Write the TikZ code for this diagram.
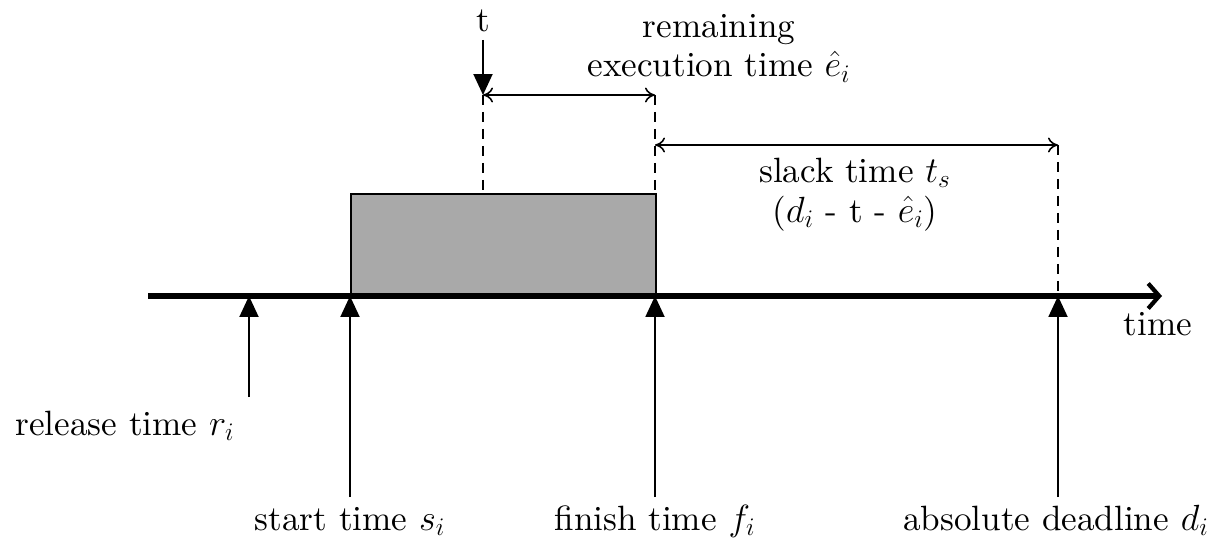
\documentclass[tikz,border=0pt]{standalone}
\usepackage{fontspec}
\setmainfont{lmroman10}[Extension=.otf, UprightFont=*-regular, ItalicFont=*-italic, BoldFont=*-bold]
\usetikzlibrary{arrows.meta}
\definecolor{boxgrey}{RGB}{169,169,169}
\begin{document}
\begin{tikzpicture}[x=0.02cm,y=-0.02cm,
  lbl/.style={font=\fontsize{20}{24}\selectfont, inner sep=0pt, anchor=base},
  twoline/.style={font=\fontsize{20}{22.6}\selectfont, inner sep=0pt, align=center, anchor=base},
  thin line/.style={line width=1.1pt},
  uparrow/.style={thin line, -{Triangle[length=0.42cm,width=0.38cm]}},
  dimline/.style={line width=0.9pt, {To[length=0.2cm,width=0.3cm]}-{To[length=0.2cm,width=0.3cm]}},
  dashline/.style={line width=1.1pt, dash pattern=on 0.2cm off 0.14cm}]
\useasboundingbox (0,0) rectangle (1214,544);
% coordinates
\coordinate (tlL) at (148,296);
\coordinate (tlR) at (1162,296);
\coordinate (rTop) at (249,296);
\coordinate (rBot) at (249,397);
\coordinate (sTop) at (350,296);
\coordinate (sBot) at (350,497);
\coordinate (fTop) at (655,296);
\coordinate (fBot) at (655,497);
\coordinate (dTop) at (1058,296);
\coordinate (dBot) at (1058,497);
\coordinate (tTop) at (483,40);
\coordinate (tA) at (483,95);
\coordinate (tB) at (483,195);
\coordinate (fA) at (655,95);
\coordinate (fB) at (655,195);
\coordinate (fS) at (655,145);
\coordinate (dS) at (1058,145);
% box
\node[draw, thin line, fill=boxgrey, minimum width=305*0.02cm, minimum height=101*0.02cm, inner sep=0pt, anchor=south west] (box) at (350,296) {};
% timeline
\draw[line width=3.4pt, -{Straight Barb[length=0.22cm,width=0.5cm,line width=2.4pt]}] (tlL) -- (tlR);
% up arrows
\draw[uparrow] (rBot) -- (rTop);
\draw[uparrow] (sBot) -- (sTop);
\draw[uparrow] (fBot) -- (fTop);
\draw[uparrow] (dBot) -- (dTop);
% t arrow
\draw[uparrow] (tTop) -- (tA);
% dashed
\draw[dashline] (tA) -- (tB);
\draw[dashline] (fA) -- (fB);
\draw[dashline] (dS) -- (dTop);
% dimension arrows
\draw[dimline] (tA) -- (fA);
\draw[dimline] (fS) -- (dS);
% labels
\node[lbl] (lt) at (483,32) {t};
\node[twoline] (lrem) at (719,77) {remaining\\execution time $\hat{e}_i$};
\node[twoline] (lslack) at (855,222) {slack time $t_s$\\($d_i$ - t - $\hat{e}_i$)};
\node[lbl] (ltime) at (1158,335) {time};
\node[lbl] (lrel) at (125,435) {release time $r_i$};
\node[lbl] (lstart) at (350,530) {start time $s_i$};
\node[lbl] (lfin) at (655,530) {finish time $f_i$};
\node[lbl] (ldl) at (1056,530) {absolute deadline $d_i$};
\end{tikzpicture}
\end{document}
